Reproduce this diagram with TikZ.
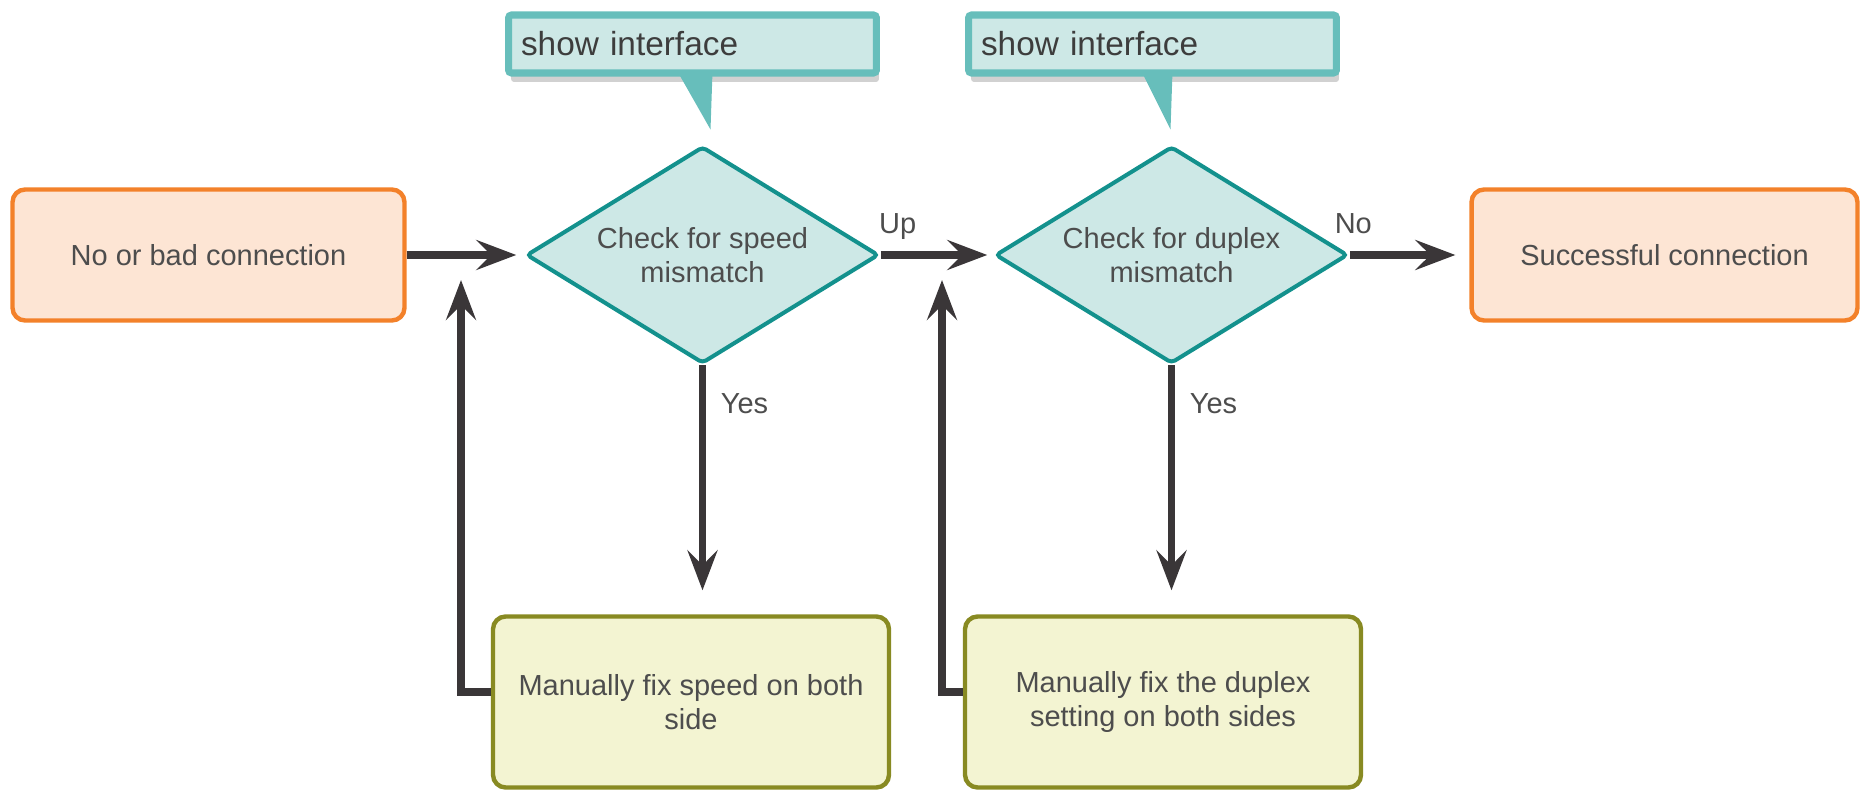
\documentclass[tikz,border=0pt]{standalone}
\usepackage{fontspec}
\setmainfont{Liberation Sans}
\usepackage{xcolor}
\usetikzlibrary{arrows.meta,shapes.geometric,shadows}

\definecolor{orangeedge}{HTML}{F3812A}
\definecolor{orangefill}{HTML}{FDE5D4}
\definecolor{tealedge}{HTML}{13918D}
\definecolor{tealfill}{HTML}{CDE8E6}
\definecolor{calloutedge}{HTML}{67BEBB}
\definecolor{olivedge}{HTML}{888A22}
\definecolor{olivefill}{HTML}{F3F4D2}
\definecolor{arrowgray}{HTML}{3A3638}
\definecolor{textgray}{HTML}{4D4D4D}
\definecolor{notegray}{HTML}{3D3D3D}

\begin{document}
\begin{tikzpicture}[x=0.02cm,y=-0.02cm,
  >={Stealth[length=0.8cm,width=0.6cm,inset=0.3cm]},
  txt/.style={text=textgray,font=\fontsize{16.5}{19}\selectfont,align=center},
  endbox/.style={txt,draw=orangeedge,fill=orangefill,line width=2.5pt,rounded corners=0.25cm,minimum height=2.62cm},
  check/.style={txt,diamond,aspect=1.6,inner sep=0pt,draw=tealedge,fill=tealfill,line width=2.3pt,rounded corners=0.08cm,minimum width=7.05cm,minimum height=4.34cm},
  fixbox/.style={txt,draw=olivedge,fill=olivefill,line width=2.5pt,rounded corners=0.25cm,minimum width=7.92cm,minimum height=3.42cm},
  note/.style={draw=calloutedge,fill=tealfill,line width=4pt,rounded corners=0.06cm,text=notegray,font=\fontsize{19}{22}\selectfont,text width=6.86cm,inner xsep=0.25cm,align=left,minimum height=1.16cm,drop shadow={shadow xshift=0.05cm,shadow yshift=-0.18cm,opacity=0.18,fill=black}},
  flow/.style={->,draw=arrowgray,line width=4pt},
  lbl/.style={text=textgray,font=\fontsize{16.5}{19}\selectfont,text depth=0.25em}]
  \useasboundingbox (0,0) rectangle (1862,793);

  \node[endbox,minimum width=7.84cm] (bad) at (208.5,255) {No or bad connection};
  \node[check] (chk1) at (702.5,255) {Check for speed\\mismatch};
  \node[check] (chk2) at (1171.5,255) {Check for duplex\\mismatch};
  \node[endbox,minimum width=7.72cm] (ok) at (1664.5,255) {Successful connection};
  \node[fixbox] (fix1) at (691,702) {Manually fix speed on both\\side};
  \node[fixbox] (fix2) at (1163,702) {Manually fix the duplex\\setting on both sides};

  % callouts
  \node[note] (call1) at (692.5,44) {show interface};
  \node[note] (call2) at (1152.5,44) {show interface};
  \coordinate (tip1) at ([shift={(8,-15)}]chk1.north);
  \coordinate (tip2) at ([shift={(-1,-15)}]chk2.north);
  \fill[calloutedge] ([xshift=-0.66cm,yshift=0.1cm]call1.south -| tip1) -- ([xshift=0.04cm,yshift=0.1cm]call1.south -| tip1) -- (tip1) -- cycle;
  \fill[calloutedge] ([xshift=-0.58cm,yshift=0.1cm]call2.south -| tip2) -- ([xshift=0.04cm,yshift=0.1cm]call2.south -| tip2) -- (tip2) -- cycle;

  \coordinate (in1) at (461,280);
  \coordinate (in2) at (942,280);

  \draw[flow,shorten >=0.16cm] (bad) -- (chk1);
  \draw[flow,shorten >=0.12cm] (chk1) -- node[lbl,pos=0.15,above=0.16cm] {Up} (chk2);
  \draw[flow,shorten >=0.28cm] (chk2) -- node[lbl,pos=0.03,above=0.16cm] {No} (ok);
  \draw[flow,shorten >=0.48cm] (chk1.south) -- node[lbl,pos=0.16,right=0.18cm] {Yes} (chk1.south |- fix1.north);
  \draw[flow,shorten >=0.48cm] (chk2.south) -- node[lbl,pos=0.16,right=0.18cm] {Yes} (chk2.south |- fix2.north);
  \draw[flow] ([yshift=0.2cm]fix1.west) -| (in1);
  \draw[flow] ([yshift=0.2cm]fix2.west) -| (in2);
\end{tikzpicture}
\end{document}
